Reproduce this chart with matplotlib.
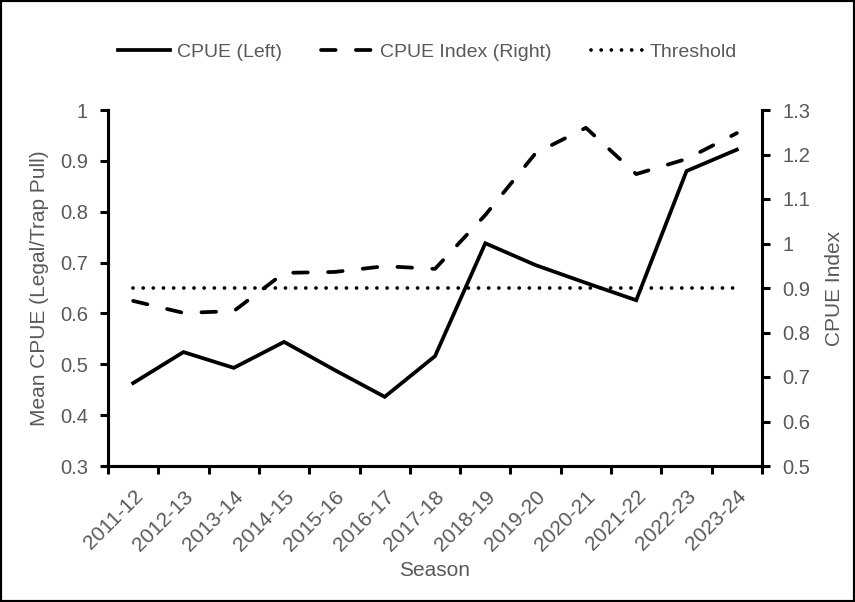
import matplotlib
matplotlib.use("Agg")
import matplotlib.pyplot as plt
from matplotlib.patches import Rectangle

seasons = ["2011-12", "2012-13", "2013-14", "2014-15", "2015-16", "2016-17", "2017-18",
           "2018-19", "2019-20", "2020-21", "2021-22", "2022-23", "2023-24"]
cpue_left = [0.463, 0.524, 0.493, 0.544, 0.489, 0.436, 0.516, 0.738, 0.695, 0.660, 0.626, 0.880, 0.922]
cpue_index = [0.871, 0.844, 0.848, 0.934, 0.936, 0.949, 0.943, 1.064, 1.203, 1.260, 1.156, 1.190, 1.248]
threshold = 0.9

plt.rcParams['font.family'] = ['Liberation Sans', 'DejaVu Sans']
gray = "#595959"

fig = plt.figure(figsize=(8.55, 6.02), dpi=100)
ax = fig.add_axes([108/855, 1-466/602, (762-108)/855, (466-110)/602])
ax2 = ax.twinx()

x = list(range(len(seasons)))
l1, = ax.plot(x, cpue_left, color="black", lw=2.7, solid_joinstyle="miter", label="CPUE (Left)")
l2, = ax2.plot(x, cpue_index, color="black", lw=2.7, dashes=(3.9, 5.4), dash_capstyle="round",
               label="CPUE Index (Right)")
l3, = ax2.plot(x, [threshold]*len(x), color="black", lw=2.7, linestyle=(0, (0.01, 2.7)),
               dash_capstyle="round", label="Threshold")

ax.set_xlim(-0.5, len(seasons)-0.5)
ax.set_ylim(0.3, 1.0)
ax2.set_ylim(0.5, 1.3)
ax.set_yticks([0.3, 0.4, 0.5, 0.6, 0.7, 0.8, 0.9, 1.0])
ax.set_yticklabels(["0.3", "0.4", "0.5", "0.6", "0.7", "0.8", "0.9", "1"])
ax2.set_yticks([0.5, 0.6, 0.7, 0.8, 0.9, 1.0, 1.1, 1.2, 1.3])
ax2.set_yticklabels(["0.5", "0.6", "0.7", "0.8", "0.9", "1", "1.1", "1.2", "1.3"])

ax.set_xticks([i - 0.5 for i in range(len(seasons)+1)])
ax.set_xticklabels([])
ax.set_xticks(x, minor=True)
ax.set_xticklabels(seasons, minor=True, rotation=45, ha="right", rotation_mode="anchor",
                   fontsize=15, color=gray)
ax.tick_params(axis="x", which="minor", length=0, pad=15)
ax.tick_params(axis="x", which="major", length=5.5, width=2.2, direction="out")
ax.tick_params(axis="y", length=5.5, width=2.2, labelsize=14.5, labelcolor=gray, pad=9)
ax2.tick_params(axis="y", length=5.5, width=2.2, labelsize=14.5, labelcolor=gray, pad=9)

for a in (ax, ax2):
    a.spines["top"].set_visible(False)
    for s in ("left", "right", "bottom"):
        a.spines[s].set_linewidth(2.2)
ax.spines["right"].set_visible(False)

ax.set_xlabel("Season", fontsize=15, color=gray, labelpad=5)
ax.set_ylabel("Mean CPUE (Legal/Trap Pull)", fontsize=15, color=gray, labelpad=8)
ax2.set_ylabel("CPUE Index", fontsize=15, color=gray, labelpad=11)

fig.legend(handles=[l1, l2, l3], loc="center", bbox_to_anchor=(0.5, 1-52/602), ncol=3,
           frameon=False, fontsize=14, labelcolor=gray, handlelength=2.7, columnspacing=2.0,
           handletextpad=0.35)

fig.patches.append(Rectangle((0, 0), 1, 1, transform=fig.transFigure, fill=False,
                             edgecolor="black", lw=3))
fig.savefig("out.png", dpi=100)
